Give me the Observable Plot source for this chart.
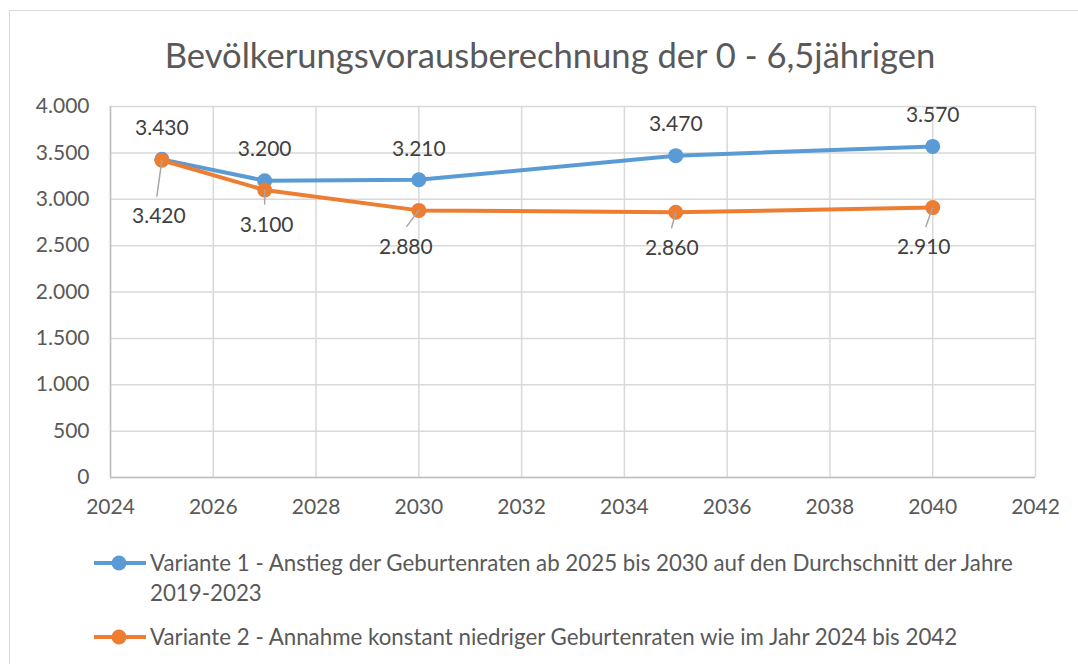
<!DOCTYPE html>
<html>
<head>
<meta charset="utf-8">
<script src="https://cdn.jsdelivr.net/npm/d3@7"></script>
<script src="https://cdn.jsdelivr.net/npm/@observablehq/plot@0.6"></script>
<style>
  html, body { margin: 0; padding: 0; background: #fff; }
  #wrap { position: relative; width: 1078px; height: 664px; overflow: hidden; font-family: Lato, "Open Sans", sans-serif; color: #595959; }
  #frame { position: absolute; left: 9px; top: 10px; width: 1080px; height: 700px; border: 1px solid #d9d9d9; box-sizing: border-box; }
  #title { position: absolute; left: 0; width: 1100px; top: 31px; text-align: center; font-size: 34.6px; line-height: 48px; white-space: nowrap; }
  #chart { position: absolute; left: 0; top: 0; }
  .leg { position: absolute; left: 94px; font-size: 22.3px; line-height: 30px; white-space: nowrap; display: flex; align-items: flex-start; }
  .leg svg { flex: none; margin-top: 0px; }
  .leg span { margin-left: 4px; }
</style>
</head>
<body>
<div id="wrap">
  <div id="frame"></div>
  <div id="title">Bevölkerungsvorausberechnung der 0 - 6,5jährigen</div>
  <div id="chart"></div>
  <div id="legend"></div>
</div>
<script>
// ---- data ----
const years = [2025, 2027, 2030, 2035, 2040];
const variante1 = [3430, 3200, 3210, 3470, 3570];
const variante2 = [3420, 3100, 2880, 2860, 2910];
const seriesNames = [
  "Variante 1 - Anstieg der Geburtenraten ab 2025 bis 2030 auf den Durchschnitt der Jahre\n2019-2023",
  "Variante 2 - Annahme konstant niedriger Geburtenraten wie im Jahr 2024 bis 2042"
];
const xTicks = [2024, 2026, 2028, 2030, 2032, 2034, 2036, 2038, 2040, 2042];
const yTicks = [0, 500, 1000, 1500, 2000, 2500, 3000, 3500, 4000];

// ---- styling (label placement for series 2, in pixels) ----
const colors = ["#5b9bd5", "#ed7d31"];
const v2LabelDx = [-3, 2, -13, -4, -9];
const v2LabelDy = [56, 35, 37, 36, 40];
const v2LeaderLen = [36, 14, 20, 16, 20];
const v2LeaderRot = [188, 180, 217, 195, 200];

const de = d3.formatLocale({decimal: ",", thousands: ".", grouping: [3], currency: ["", " €"]});
const fmt = de.format(",");

const s1 = years.map((x, i) => ({x, y: variante1[i]}));
const s2 = years.map((x, i) => ({x, y: variante2[i]}));

const leaderShape = { draw(context, l) { context.moveTo(0, 0); context.lineTo(0, -l); } };

const v2Labels = s2.map((d, i) => Plot.text([d], {
  x: "x", y: "y", text: d => fmt(d.y), dx: v2LabelDx[i], dy: v2LabelDy[i],
  fill: "#404040", fontSize: 21
}));
const v2Leaders = s2.map((d, i) => Plot.vector([d], {
  x: "x", y: "y", length: v2LeaderLen[i], rotate: v2LeaderRot[i], anchor: "start",
  shape: leaderShape, stroke: "#a6a6a6", strokeWidth: 1.5
}));

const chart = Plot.plot({
  width: 1078, height: 540,
  marginLeft: 110, marginRight: 43, marginTop: 106, marginBottom: 63,
  style: {fontFamily: "Lato, 'Open Sans', sans-serif", fontSize: "21px", color: "#595959", background: "transparent", overflow: "visible"},
  x: {domain: [2024, 2042], ticks: xTicks, tickFormat: d => String(d)},
  y: {domain: [0, 4000], ticks: yTicks, tickFormat: fmt},
  marks: [
    Plot.gridX(xTicks, {stroke: "#d9d9d9", strokeOpacity: 1, strokeWidth: 1.5}),
    Plot.gridY(yTicks, {stroke: "#d9d9d9", strokeOpacity: 1, strokeWidth: 1.5}),
    Plot.ruleY([0], {stroke: "#bfbfbf", strokeWidth: 1.5}),
    Plot.ruleX([2024], {stroke: "#bfbfbf", strokeWidth: 1.5}),
    Plot.axisX({ticks: xTicks, tickSize: 0, tickPadding: 22, tickFormat: d => String(d), label: null, fill: "#595959"}),
    Plot.axisY({ticks: yTicks, tickSize: 0, tickPadding: 21, tickFormat: fmt, label: null, fill: "#595959"}),
    Plot.line(s1, {x: "x", y: "y", stroke: colors[0], strokeWidth: 4}),
    Plot.line(s2, {x: "x", y: "y", stroke: colors[1], strokeWidth: 4}),
    Plot.dot(s1, {x: "x", y: "y", r: 7.5, fill: colors[0]}),
    Plot.dot(s2, {x: "x", y: "y", r: 7.5, fill: colors[1]}),
    ...v2Leaders,
    Plot.text(s1, {x: "x", y: "y", text: d => fmt(d.y), dy: -31, fill: "#404040", fontSize: 21}),
    ...v2Labels
  ]
});
document.getElementById("chart").appendChild(chart);

// ---- legend ----
const legend = document.getElementById("legend");
const legTops = [548, 622];
seriesNames.forEach((name, i) => {
  const div = document.createElement("div");
  div.className = "leg";
  div.style.top = legTops[i] + "px";
  div.innerHTML = `<svg width="52" height="30"><line x1="0" x2="52" y1="15" y2="15" stroke="${colors[i]}" stroke-width="4"/><circle cx="25" cy="15" r="7.5" fill="${colors[i]}"/></svg><span>${name.replace("\n", "<br>")}</span>`;
  legend.appendChild(div);
});
</script>
</body>
</html>
